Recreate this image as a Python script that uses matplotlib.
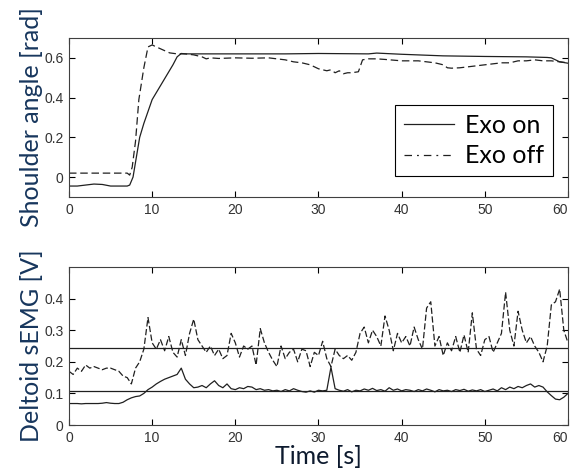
import numpy as np
import matplotlib.pyplot as plt
from matplotlib.lines import Line2D

# shoulder angle, exo on
ang_on_t = [0, 1, 2, 3, 4, 5, 6, 7, 7.3, 7.7, 8.1, 8.5, 9, 9.5, 10, 11, 12, 12.5, 13, 13.5,
            14, 20, 26, 30, 36, 37, 40, 45, 50, 55, 57.5, 58, 58.5, 59, 60]
ang_on = [-0.045, -0.045, -0.04, -0.035, -0.037, -0.045, -0.045, -0.045, -0.04, 0.0, 0.1, 0.2,
          0.27, 0.33, 0.39, 0.46, 0.53, 0.565, 0.605, 0.622,
          0.62, 0.62, 0.62, 0.622, 0.62, 0.624, 0.618, 0.61, 0.607, 0.605, 0.602, 0.6, 0.59, 0.58, 0.573]

# shoulder angle, exo off
ang_off_t = [0, 7.0, 7.3, 7.6, 8.0, 8.4, 9.0, 9.5, 10.0, 10.5, 11.3, 12.1, 13, 14, 15, 16, 16.5,
             17, 18, 20, 22, 24, 25, 26, 27, 28, 29, 30, 31, 31.5, 32, 32.5, 33, 33.5, 34, 34.8,
             35.3, 36, 37, 38, 40, 42, 43, 44, 45, 45.5, 46, 47, 48, 49, 50, 51, 52, 53, 54, 55,
             56, 57, 58, 59, 60]
ang_off = [0.02, 0.02, 0.01, 0.05, 0.18, 0.39, 0.55, 0.655, 0.665, 0.655, 0.64, 0.625, 0.62, 0.62,
           0.615, 0.605, 0.595, 0.6, 0.597, 0.6, 0.598, 0.6, 0.595, 0.59, 0.58, 0.575, 0.565,
           0.545, 0.535, 0.54, 0.525, 0.535, 0.52, 0.525, 0.525, 0.53, 0.59, 0.595, 0.595, 0.592,
           0.585, 0.585, 0.58, 0.575, 0.565, 0.55, 0.548, 0.55, 0.555, 0.56, 0.565, 0.57, 0.575,
           0.575, 0.585, 0.585, 0.59, 0.585, 0.585, 0.58, 0.575]

# deltoid sEMG, sampled every 0.5 s
emg_t = np.arange(121) * 0.5
emg_off = [0.17, 0.16, 0.18, 0.17, 0.19, 0.18, 0.185, 0.18, 0.175, 0.18,
           0.18, 0.175, 0.17, 0.155, 0.15, 0.13, 0.18, 0.2, 0.24, 0.34,
           0.26, 0.24, 0.27, 0.235, 0.28, 0.23, 0.215, 0.27, 0.22, 0.29,
           0.335, 0.27, 0.25, 0.23, 0.25, 0.22, 0.24, 0.21, 0.22, 0.29,
           0.26, 0.215, 0.25, 0.24, 0.25, 0.19, 0.305, 0.26, 0.23, 0.205,
           0.185, 0.25, 0.21, 0.23, 0.24, 0.2, 0.24, 0.235, 0.185, 0.23,
           0.22, 0.265, 0.21, 0.185, 0.24, 0.22, 0.21, 0.22, 0.205, 0.23,
           0.29, 0.31, 0.26, 0.3, 0.28, 0.25, 0.345, 0.3, 0.235, 0.29,
           0.26, 0.28, 0.25, 0.31, 0.27, 0.24, 0.37, 0.39, 0.25, 0.28,
           0.22, 0.26, 0.235, 0.28, 0.23, 0.285, 0.23, 0.355, 0.24, 0.22,
           0.27, 0.28, 0.23, 0.26, 0.29, 0.42, 0.3, 0.25, 0.36, 0.3,
           0.26, 0.28, 0.25, 0.23, 0.2, 0.25, 0.38, 0.39, 0.43, 0.3,
           0.26]
emg_on = [0.068, 0.068, 0.068, 0.067, 0.068, 0.068, 0.068, 0.068, 0.069, 0.071,
          0.069, 0.068, 0.068, 0.072, 0.08, 0.086, 0.09, 0.092, 0.1, 0.112,
          0.12, 0.13, 0.138, 0.145, 0.15, 0.155, 0.16, 0.18, 0.145, 0.13,
          0.118, 0.12, 0.125, 0.118, 0.13, 0.14, 0.125, 0.118, 0.13, 0.115,
          0.112, 0.118, 0.115, 0.122, 0.12, 0.112, 0.115, 0.11, 0.112, 0.108,
          0.11, 0.106, 0.112, 0.108, 0.115, 0.11, 0.106, 0.104, 0.108, 0.104,
          0.11, 0.108, 0.11, 0.183, 0.115, 0.11, 0.107, 0.112, 0.105, 0.11,
          0.108, 0.114, 0.11, 0.116, 0.109, 0.112, 0.107, 0.118, 0.11, 0.114,
          0.108, 0.112, 0.11, 0.106, 0.112, 0.108, 0.114, 0.11, 0.105, 0.112,
          0.108, 0.11, 0.106, 0.112, 0.109, 0.113, 0.107, 0.111, 0.108, 0.112,
          0.106, 0.11, 0.114, 0.108, 0.118, 0.112, 0.12, 0.115, 0.122, 0.118,
          0.125, 0.13, 0.12, 0.125, 0.12, 0.105, 0.093, 0.082, 0.08, 0.088,
          0.1]
emg_on_mean = 0.107
emg_off_mean = 0.244

label_color = '#17365D'
line_color = '#202020'

fig = plt.figure(figsize=(5.74, 4.70), dpi=100)
ax1 = fig.add_axes([0.1202, 0.5809, 0.8693, 0.3383])
ax2 = fig.add_axes([0.1202, 0.0957, 0.8693, 0.3362])

ax1.plot(ang_on_t, ang_on, color=line_color, lw=0.9)
ax1.plot(ang_off_t, ang_off, color=line_color, lw=0.9, dashes=(6, 3))
ax1.set_xlim(0, 60)
ax1.set_ylim(-0.1, 0.7)
ax1.set_yticks([0, 0.2, 0.4, 0.6])
ax1.set_yticklabels(['0', '0.2', '0.4', '0.6'])
ax1.set_ylabel('Shoulder angle [rad]', fontsize=18, family='Lato', color=label_color, labelpad=1)

handles = [Line2D([], [], color=line_color, lw=0.9),
           Line2D([], [], color=line_color, lw=0.9, dashes=(6, 4, 1.5, 4))]
leg = ax1.legend(handles, ['Exo on', 'Exo off'], loc='upper right', bbox_to_anchor=(0.97, 0.578),
                 fancybox=False, edgecolor='black', framealpha=1,
                 prop={'family': 'Lato', 'size': 18}, handlelength=2.0,
                 borderpad=0.35, labelspacing=0.3, handletextpad=0.45, borderaxespad=0)
leg.get_frame().set_linewidth(0.8)

ax2.plot(emg_t, emg_off, color=line_color, lw=0.9, dashes=(5, 2))
ax2.plot(emg_t, emg_on, color=line_color, lw=0.9)
ax2.axhline(emg_off_mean, color=line_color, lw=0.9)
ax2.axhline(emg_on_mean, color=line_color, lw=0.9)
ax2.set_xlim(0, 60)
ax2.set_ylim(0, 0.5)
ax2.set_yticks([0, 0.1, 0.2, 0.3, 0.4])
ax2.set_yticklabels(['0', '0.1', '0.2', '0.3', '0.4'])
ax2.set_ylabel('Deltoid sEMG [V]', fontsize=18, family='Lato', color=label_color, labelpad=1)
ax2.set_xlabel('Time [s]', fontsize=18, family='Lato', color='#0d1a2e', labelpad=0)

for ax in (ax1, ax2):
    ax.set_xticks([0, 10, 20, 30, 40, 50, 60])
    ax.tick_params(direction='in', top=True, right=True, length=4, width=0.8,
                   labelsize=10, labelcolor='#333333', pad=4)
    for lab in ax.get_xticklabels() + ax.get_yticklabels():
        lab.set_family(['Liberation Sans Narrow', 'Liberation Sans'])
    ax.get_xticklabels()[-1].set_ha('right')
    for s in ax.spines.values():
        s.set_linewidth(0.8)
        s.set_color('#404040')

fig.savefig('out.png', dpi=100)
